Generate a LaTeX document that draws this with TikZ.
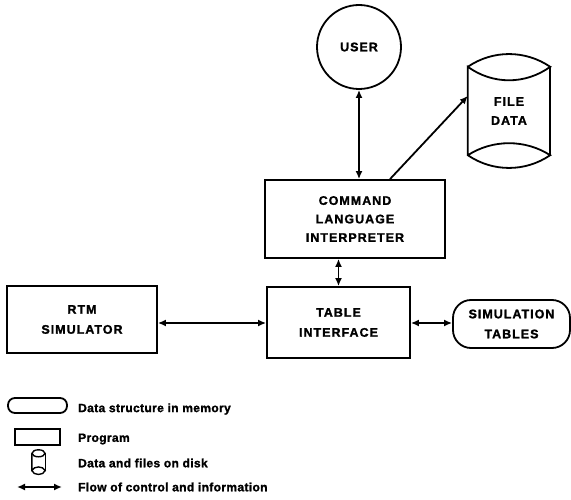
\documentclass[tikz,border=0pt]{standalone}
\usepackage{fontspec}
\setmainfont{Liberation Sans}
\newfontfamily\heavy[LetterSpace=8,RawFeature={embolden=1.5}]{Liberation Sans Bold}
\newfontfamily\legfont[LetterSpace=3,RawFeature={embolden=1.5}]{Liberation Sans Bold}
\usetikzlibrary{arrows.meta,calc}
\begin{document}
\begin{tikzpicture}[x=1pt,y=-1pt,
  lw/.style={line width=1.8pt},
  lbl/.style={align=center,font=\fontsize{12.5}{20}\heavy},
  prog/.style={lw,draw,rectangle,lbl,inner sep=0pt},
  mem/.style={lw,draw,rectangle,rounded corners=18pt,lbl,inner sep=0pt},
  flow/.style={line width=1.8pt,{Latex[length=8pt,width=7pt]}-{Latex[length=8pt,width=7pt]}},
  legtext/.style={anchor=west,font=\fontsize{12}{14}\legfont,inner sep=0pt}
]
\useasboundingbox (0,0) rectangle (571,500);

% USER
\node[lw,draw,circle,minimum size=84pt,inner sep=0pt,lbl] (user) at (359,47) {USER};
% FILE DATA cylinder
\node[rectangle,minimum width=82pt,minimum height=88pt,inner sep=0pt,lbl,font=\fontsize{12.5}{19}\heavy] (file) at (509,111) {FILE\\DATA};
\draw[lw] (file.north west) .. controls ($(file.north west)+(25,-17)$) and ($(file.north east)+(-25,-17)$) .. (file.north east)
          .. controls ($(file.north east)+(-25,18)$) and ($(file.north west)+(25,18)$) .. (file.north west) -- (file.south west)
          .. controls ($(file.south west)+(25,17)$) and ($(file.south east)+(-25,17)$) .. (file.south east)
          .. controls ($(file.south east)+(-25,-16)$) and ($(file.south west)+(25,-16)$) .. (file.south west);
\draw[lw] (file.north east) -- (file.south east);

% Programs
\node[prog,minimum width=180pt,minimum height=78pt,font=\fontsize{12.5}{18.5}\heavy] (cli) at (355,219) {COMMAND\\LANGUAGE\\INTERPRETER};
\node[prog,minimum width=150pt,minimum height=67pt] (rtm) at (82,319.5) {RTM\\SIMULATOR};
\node[prog,minimum width=143pt,minimum height=71pt] (ti) at (338.5,322.5) {TABLE\\INTERFACE};
\node[mem,minimum width=117pt,minimum height=48pt] (sim) at (511.5,324) {SIMULATION\\TABLES};

% Connectors
\draw[flow] (user.south) -- (user.south |- cli.north);
\draw[line width=1.8pt,-{Latex[length=8pt,width=7pt]}] ([xshift=35pt]cli.north) -- ([yshift=15pt]file.west);
\draw[flow] (ti.north |- cli.south) -- (ti.north);
\draw[flow] (rtm.east |- 0,323) -- (ti.west |- 0,323);
\draw[flow] (ti.east |- 0,323) -- (sim.west |- 0,323);

% Legend
\node[lw,draw,rectangle,rounded corners=7pt,minimum width=59pt,minimum height=15pt,inner sep=0pt] (lmem) at (37.5,405.5) {};
\node[legtext] (tmem) at (78,409) {Data structure in memory};
\node[lw,draw,rectangle,minimum width=45pt,minimum height=16pt,inner sep=0pt] (lprog) at (37.5,437) {};
\node[legtext] (tprog) at (78,439) {Program};
\node[minimum width=13pt,minimum height=17pt,inner sep=0pt] (ldisk) at (38.5,462) {};
\draw[line width=1.4pt] (ldisk.north) ellipse (6.5pt and 3.5pt);
\draw[line width=1.4pt] (ldisk.north west) -- (ldisk.south west)
   .. controls ($(ldisk.south west)+(2,5)$) and ($(ldisk.south east)+(-2,5)$) .. (ldisk.south east)
   .. controls ($(ldisk.south east)+(-2,-5)$) and ($(ldisk.south west)+(2,-5)$) .. (ldisk.south west);
\draw[line width=1.4pt] (ldisk.north east) -- (ldisk.south east);
\node[legtext] (tdisk) at (78,463) {Data and files on disk};
\coordinate (la) at (17,487);
\coordinate (lb) at (62,487);
\draw[flow] (la) -- (lb);
\node[legtext] (tflow) at (78,487) {Flow of control and information};
\end{tikzpicture}
\end{document}
